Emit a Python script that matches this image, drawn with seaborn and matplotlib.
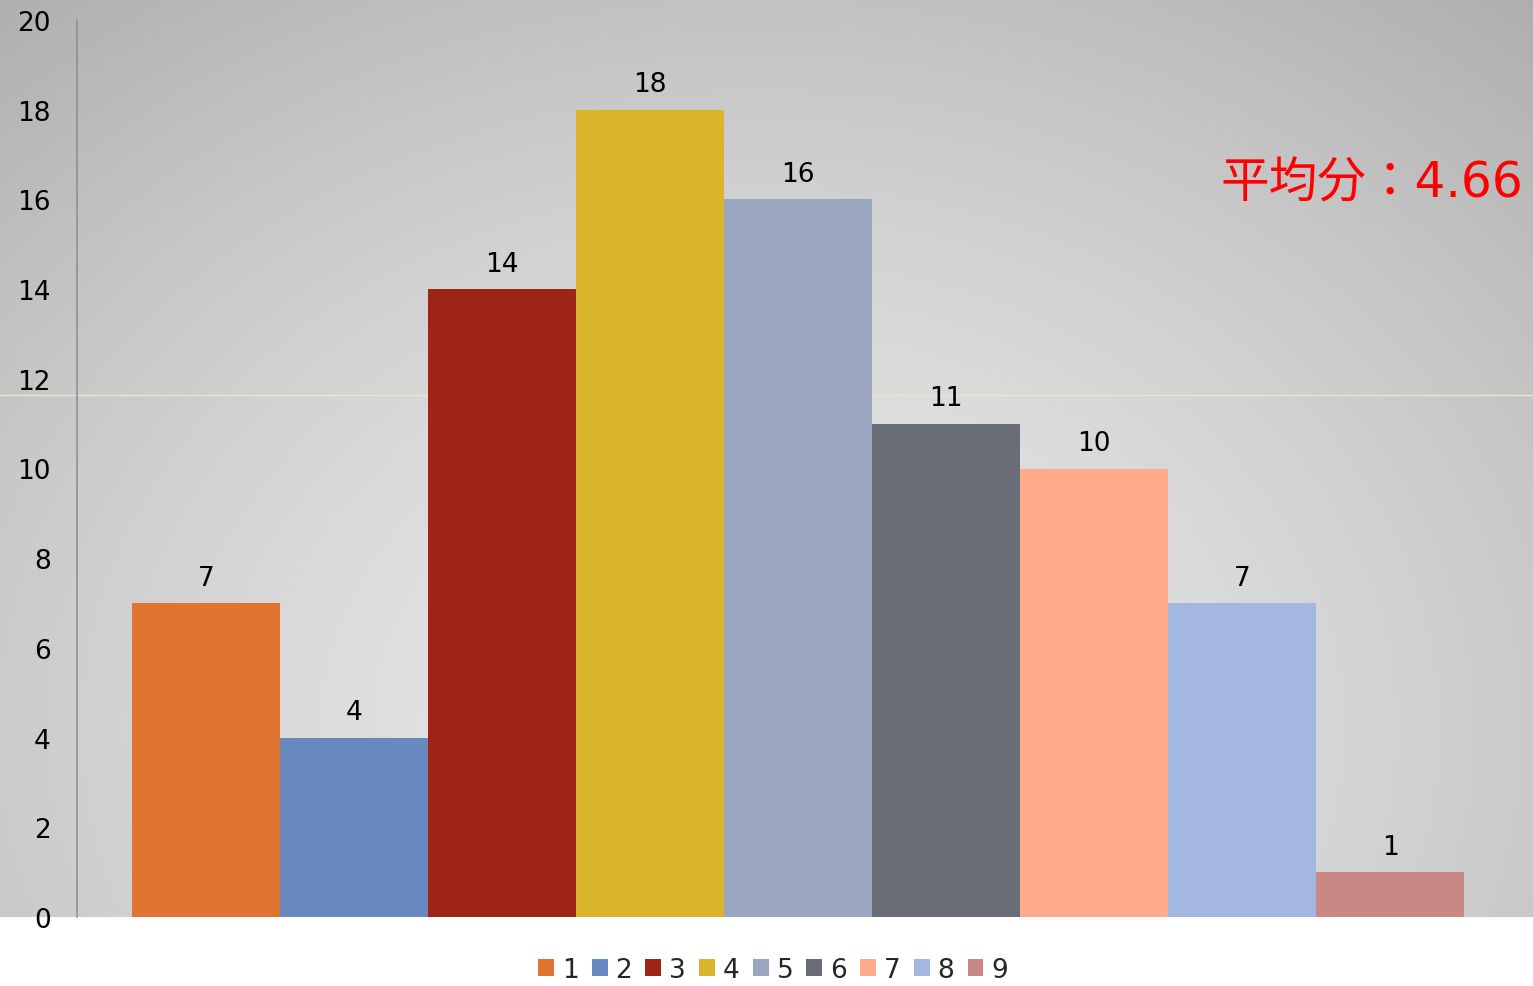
import numpy as np
import pandas as pd
import matplotlib
matplotlib.use("Agg")
import matplotlib.pyplot as plt
import matplotlib.transforms as mtransforms
from matplotlib.lines import Line2D
from matplotlib.patches import Patch
import seaborn as sns

# Score distribution
scores = ["1", "2", "3", "4", "5", "6", "7", "8", "9"]
counts = [7, 4, 14, 18, 16, 11, 10, 7, 1]
colors = ["#E07531", "#6889C0", "#9E2515", "#DAB42A", "#9AA5BF",
          "#686D77", "#FFAC8C", "#A4B7E0", "#C98883"]
y_ticks = [0, 2, 4, 6, 8, 10, 12, 14, 16, 18, 20]
mean_text = "平均分：4.66"
ref_level = 11.63

sns.set_style("white")
plt.rcParams["font.family"] = ["DejaVu Sans", "Noto Sans CJK JP"]

W, H = 1533, 987
fig = plt.figure(figsize=(W / 100, H / 100), dpi=100)
fig.patch.set_facecolor("white")

# Radial grey gradient behind the plotting area
bg_bottom = 918
bg = fig.add_axes([0, (H - bg_bottom) / H, 1, bg_bottom / H], zorder=-3)
xx, yy = np.meshgrid(np.arange(W), np.arange(bg_bottom))
d = np.sqrt(((xx - 760) / 1000.0) ** 2 + ((yy - 730) / 800.0) ** 2)
shade = np.clip(233 - 45 * d ** 1.5, 150, 235) / 255.0
bg.imshow(np.dstack([shade, shade, shade]), aspect="auto", origin="upper",
          extent=[0, W, bg_bottom, 0], interpolation="bilinear")
bg.set_axis_off()

# Main axes
ax = fig.add_axes([77 / W, (H - 918) / H, (W - 77) / W, 897 / H])
ax.patch.set_alpha(0)

df = pd.DataFrame({"score": scores, "count": counts})
sns.barplot(data=df, x="score", y="count", hue="score", palette=colors,
            order=scores, hue_order=scores, width=1.0, saturation=1,
            linewidth=0, legend=False, ax=ax)

for cont in ax.containers:
    ax.bar_label(cont, fmt="%d", padding=9, fontsize=19, color="black")

ax.set_xlim((77 - 206) / 148, (W - 206) / 148)
ax.set_ylim(0, 20)
ax.set_yticks(y_ticks)
ax.set_yticklabels([str(t) for t in y_ticks], fontsize=19, color="black")
ax.tick_params(axis="y", length=0, pad=19)
ax.set_xticks([])
ax.set_xlabel("")
ax.set_ylabel("")
for side in ["top", "right", "bottom"]:
    ax.spines[side].set_visible(False)
ax.spines["left"].set_color("#8c8c8c")
ax.spines["left"].set_linewidth(1.1)

# Thin reference line across the whole chart area
trans = mtransforms.blended_transform_factory(fig.transFigure, ax.transData)
fig.add_artist(Line2D([0, 1], [ref_level, ref_level], transform=trans,
                      color="#ebe6c8", linewidth=1.0, zorder=-2))

# Mean score annotation
fig.text(1523 / W, (H - 198) / H, mean_text, color="#ff0000", fontsize=35,
         ha="right", va="baseline",
         family=["DejaVu Sans", "Noto Sans CJK JP"])

# Legend
handles = [Patch(facecolor=c, edgecolor="none", label=s)
           for s, c in zip(scores, colors)]
fig.legend(handles=handles, loc="center", ncol=len(scores),
           bbox_to_anchor=(773 / W, (H - 971) / H), frameon=False,
           fontsize=19, handlelength=0.6, handleheight=0.6,
           handletextpad=0.3, columnspacing=0.5, borderpad=0)

fig.savefig("out.png", dpi=100, facecolor="white")
